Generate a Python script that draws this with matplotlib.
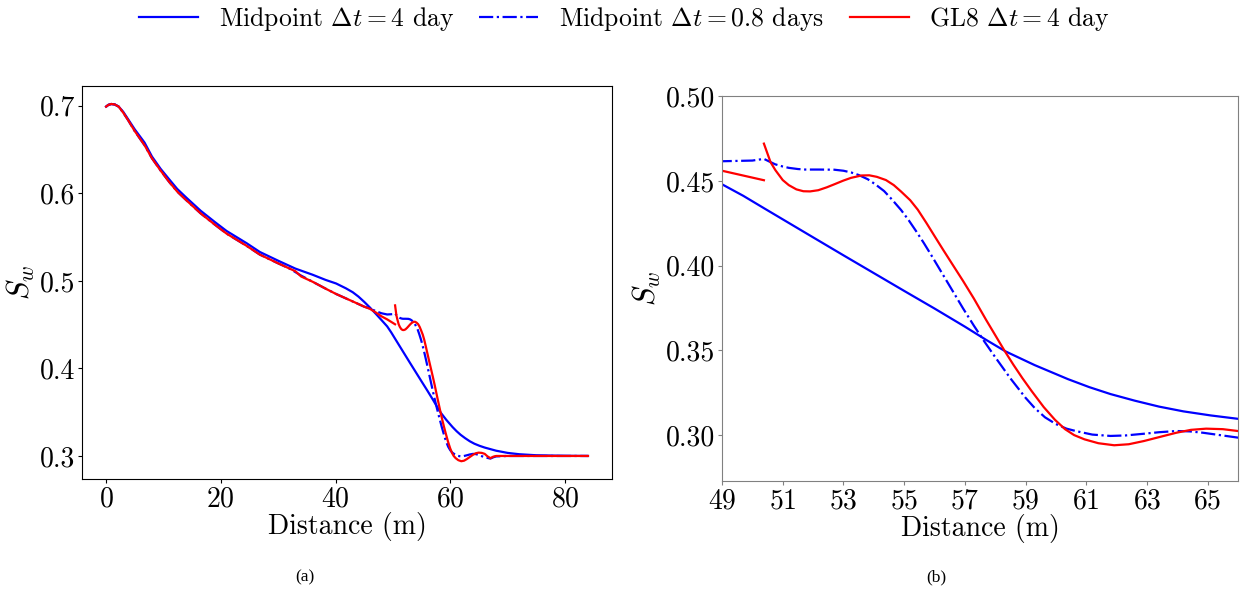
import numpy as np
import matplotlib.pyplot as plt
from matplotlib.ticker import FormatStrFormatter

plt.rcParams['font.family'] = 'serif'
plt.rcParams['font.serif'] = ['cmr10']
plt.rcParams['mathtext.fontset'] = 'cm'
plt.rcParams['axes.formatter.use_mathtext'] = True

# Midpoint, dt = 4 day
x_mid4 = [0, 0.4, 0.9, 1.5, 2.2, 3, 3.8, 5, 6.7, 8, 9.5, 11, 12.4, 14, 16.5,
          19, 21, 24.5, 26.8, 30, 33, 36, 38.3, 40.1, 41.8, 43, 44, 45, 46,
          47, 48, 49, 49.7, 50.4, 51.2, 52, 53, 54, 55, 56, 57, 57.7, 58.34,
          59.3, 60.4, 61.1, 61.8, 62.6, 63.4, 64.2, 65.1, 66, 68, 70, 72, 75,
          80, 84]
sw_mid4 = [0.699, 0.701, 0.702, 0.7015, 0.699, 0.693, 0.685, 0.673, 0.658,
           0.642, 0.628, 0.616, 0.605, 0.595, 0.580, 0.567, 0.557, 0.543,
           0.533, 0.523, 0.514, 0.507, 0.501, 0.497, 0.4915, 0.487, 0.482,
           0.476, 0.4695, 0.4625, 0.4553, 0.448, 0.4412, 0.4337, 0.4252,
           0.4167, 0.4061, 0.3956, 0.3851, 0.3747, 0.3640, 0.3562, 0.3494,
           0.3413, 0.3330, 0.3283, 0.3242, 0.3203, 0.3168, 0.3140, 0.3116,
           0.3096, 0.306, 0.3035, 0.302, 0.3008, 0.3002, 0.300]

# Midpoint, dt = 0.8 days
x_mid08 = [0, 0.4, 0.9, 1.5, 2.2, 3, 3.8, 5, 6.7, 8, 9.5, 11, 12.4, 14, 16.5,
           19, 21, 24.5, 26.8, 30, 32, 34, 36, 38.3, 40.1, 41.8, 43.5, 45,
           45.8, 47, 48, 49, 50, 50.38, 50.55, 50.75, 51.0, 51.2, 51.5, 51.74,
           52.2, 52.7, 53.0, 53.25, 53.5, 53.8, 54.05, 54.34, 54.6, 54.9,
           55.15, 55.4, 55.65, 55.9, 56.15, 56.4, 56.7, 56.94, 57.3, 57.64,
           58.0, 58.5, 59.0, 59.3, 59.64, 60.0, 60.35, 60.7, 61.2, 61.8, 62.3,
           62.9, 63.4, 63.97, 64.4, 64.84, 65.4, 66, 67, 67.5, 68, 70, 75, 80,
           84]
sw_mid08 = [0.699, 0.701, 0.702, 0.7015, 0.699, 0.692, 0.684, 0.671, 0.655,
            0.640, 0.626, 0.613, 0.602, 0.592, 0.577, 0.564, 0.554, 0.540,
            0.530, 0.520, 0.514, 0.506, 0.499, 0.491, 0.485, 0.480, 0.475,
            0.4705, 0.469, 0.4655, 0.463, 0.4616, 0.462, 0.463, 0.4615,
            0.4598, 0.4585, 0.4577, 0.4570, 0.4567, 0.4567, 0.4566, 0.4560,
            0.4550, 0.4535, 0.4510, 0.448, 0.4440, 0.4390, 0.4328, 0.4268,
            0.4202, 0.4133, 0.406, 0.3985, 0.391, 0.382, 0.3748, 0.3645,
            0.3553, 0.346, 0.3335, 0.322, 0.316, 0.3105, 0.3065, 0.3038,
            0.3022, 0.3003, 0.2995, 0.2998, 0.3008, 0.3017, 0.3024, 0.3022,
            0.3014, 0.3000, 0.2985, 0.2970, 0.2985, 0.2995, 0.300, 0.300,
            0.300, 0.300]

# GL8, dt = 4 day (two pieces, jump at the element edge x = 50.38)
x_gl8_a = [0, 0.4, 0.9, 1.5, 2.2, 3, 3.8, 5, 6.7, 8, 9.5, 11, 12.4, 14, 16.5,
           19, 21, 24.5, 26.8, 30, 32, 33, 34, 36, 38.3, 40.1, 41.8, 43.5, 45,
           46, 47, 48, 49, 50.38]
sw_gl8_a = [0.699, 0.701, 0.702, 0.7015, 0.699, 0.692, 0.684, 0.671, 0.655,
            0.640, 0.626, 0.613, 0.602, 0.592, 0.577, 0.564, 0.554, 0.540,
            0.530, 0.520, 0.514, 0.511, 0.505, 0.499, 0.491, 0.485, 0.480,
            0.475, 0.4705, 0.468, 0.464, 0.4595, 0.456, 0.4504]
x_gl8_b = [50.38, 50.5, 50.6, 50.76, 51.0, 51.2, 51.45, 51.68, 51.9, 52.17,
           52.45, 52.7, 53.0, 53.25, 53.6, 53.85, 54.1, 54.4, 54.66, 54.9,
           55.2, 55.45, 55.74, 56.0, 56.29, 56.6, 56.94, 57.3, 57.7, 58.0,
           58.3, 58.6, 58.9, 59.2, 59.6, 59.97, 60.3, 60.6, 60.94, 61.4, 61.92,
           62.4, 62.9, 63.4, 63.97, 64.45, 64.95, 65.5, 66, 66.5, 67, 67.5, 68,
           70, 75, 80, 84]
sw_gl8_b = [0.472, 0.466, 0.461, 0.4563, 0.4505, 0.4475, 0.4450, 0.4439,
            0.4438, 0.4445, 0.4462, 0.448, 0.4502, 0.4518, 0.4532, 0.4533,
            0.4524, 0.4505, 0.4475, 0.4437, 0.4386, 0.4330, 0.425, 0.4175,
            0.4092, 0.4005, 0.391, 0.3805, 0.368, 0.359, 0.350, 0.3415, 0.3335,
            0.326, 0.3165, 0.309, 0.3035, 0.300, 0.2975, 0.2952, 0.294, 0.2946,
            0.2965, 0.2988, 0.3014, 0.3031, 0.3038, 0.3035, 0.3024, 0.2995,
            0.2975, 0.2992, 0.300, 0.300, 0.300, 0.300, 0.300]

labels = [r'Midpoint $\Delta t = 4$ day', r'Midpoint $\Delta t = 0.8$ days',
          r'GL8 $\Delta t = 4$ day']

fig = plt.figure(figsize=(12.44, 5.9), dpi=100)
ax1 = fig.add_axes([0.0659, 0.188, 0.4261, 0.666])
ax2 = fig.add_axes([0.5804, 0.185, 0.4148, 0.652])


def draw(ax):
    ax.plot(x_mid4, sw_mid4, color='#0000ff', lw=1.6, label=labels[0])
    ax.plot(x_mid08, sw_mid08, color='#0000ff', lw=1.6, ls='-.', label=labels[1])
    ax.plot(x_gl8_a, sw_gl8_a, color='#ff0000', lw=1.6, label=labels[2])
    ax.plot(x_gl8_b, sw_gl8_b, color='#ff0000', lw=1.6)
    ax.set_xlabel('Distance (m)', fontsize=20, labelpad=0)
    ax.set_ylabel(r'$S_w$', fontsize=22, labelpad=2)
    ax.tick_params(labelsize=20, length=3, pad=2)


draw(ax1)
ax1.set_xticks([0, 20, 40, 60, 80])
ax1.set_yticks([0.3, 0.4, 0.5, 0.6, 0.7])
ax1.yaxis.set_major_formatter(FormatStrFormatter('%.1f'))

draw(ax2)
ax2.set_xlim(49, 66)
ax2.set_ylim(0.273, 0.50)
ax2.set_xticks(np.arange(49, 66, 2))
ax2.set_yticks([0.30, 0.35, 0.40, 0.45, 0.50])
ax2.yaxis.set_major_formatter(FormatStrFormatter('%.2f'))
for sp in ax2.spines.values():
    sp.set_color('#808080')
ax2.tick_params(color='#808080')

handles, labs = ax1.get_legend_handles_labels()
fig.legend(handles, labs, loc='upper center', bbox_to_anchor=(0.502, 1.03),
           ncol=3, frameon=False, fontsize=18.5, handlelength=2.3,
           columnspacing=1.0)

fig.text(0.245, 0.014, '(a)', family=['Liberation Serif'], fontsize=12.5,
         ha='center')
fig.text(0.753, 0.014, '(b)', family=['Liberation Serif'], fontsize=12.5,
         ha='center')

fig.savefig('out.png', dpi=100)
